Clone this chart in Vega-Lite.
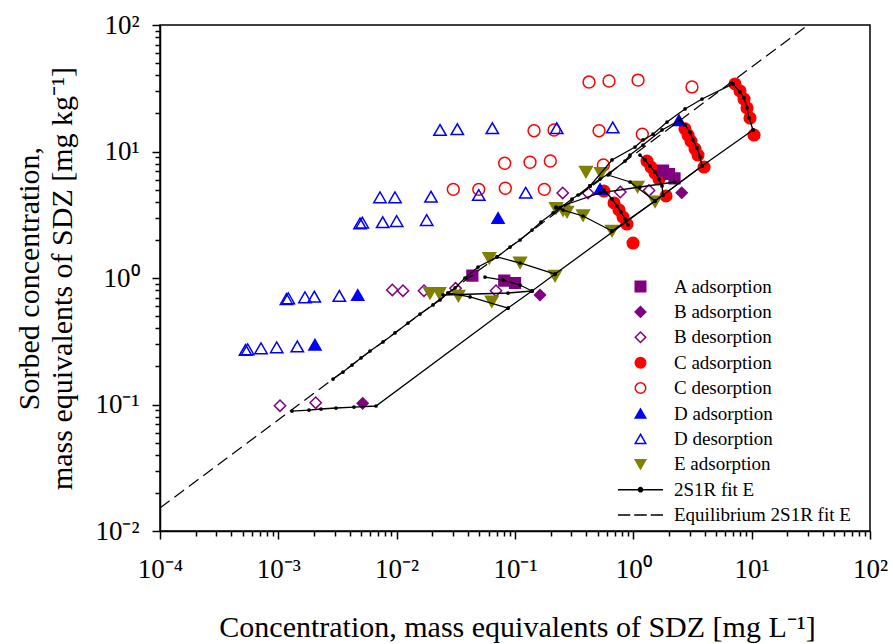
{
  "$schema": "https://vega.github.io/schema/vega-lite/v6.json",
  "width": 710,
  "height": 506,
  "autosize": {"type": "none"},
  "padding": {"left": 160, "top": 25, "right": 23, "bottom": 113},
  "background": "white",
  "config": {
    "view": {"stroke": "black", "strokeWidth": 1.5},
    "font": "Liberation Serif"
  },
  "datasets": {
    "obs": [
      {"series": "C adsorption", "c": 7.23, "s": 34.2},
      {"series": "C adsorption", "c": 7.97, "s": 30.1},
      {"series": "C adsorption", "c": 8.62, "s": 26.0},
      {"series": "C adsorption", "c": 9.14, "s": 22.1},
      {"series": "C adsorption", "c": 9.68, "s": 18.4},
      {"series": "C adsorption", "c": 10.47, "s": 13.5},
      {"series": "C adsorption", "c": 2.73, "s": 15.1},
      {"series": "C adsorption", "c": 2.9, "s": 13.5},
      {"series": "C adsorption", "c": 3.07, "s": 12.1},
      {"series": "C adsorption", "c": 3.32, "s": 10.5},
      {"series": "C adsorption", "c": 3.52, "s": 9.38},
      {"series": "C adsorption", "c": 3.96, "s": 7.54},
      {"series": "C adsorption", "c": 1.305, "s": 8.41},
      {"series": "C adsorption", "c": 1.41, "s": 7.54},
      {"series": "C adsorption", "c": 1.525, "s": 6.76},
      {"series": "C adsorption", "c": 1.65, "s": 6.06},
      {"series": "C adsorption", "c": 1.89, "s": 4.45},
      {"series": "C adsorption", "c": 0.565, "s": 4.87},
      {"series": "C adsorption", "c": 0.687, "s": 3.92},
      {"series": "C adsorption", "c": 0.757, "s": 3.45},
      {"series": "C adsorption", "c": 0.818, "s": 3.03},
      {"series": "C adsorption", "c": 0.884, "s": 2.67},
      {"series": "C adsorption", "c": 0.994, "s": 1.89},
      {"series": "C desorption", "c": 0.422, "s": 35.4},
      {"series": "C desorption", "c": 0.623, "s": 36.1},
      {"series": "C desorption", "c": 1.096, "s": 36.7},
      {"series": "C desorption", "c": 3.13, "s": 32.4},
      {"series": "C desorption", "c": 0.1448, "s": 14.6},
      {"series": "C desorption", "c": 0.2137, "s": 14.8},
      {"series": "C desorption", "c": 0.513, "s": 14.6},
      {"series": "C desorption", "c": 1.191, "s": 13.7},
      {"series": "C desorption", "c": 0.0818, "s": 8.07},
      {"series": "C desorption", "c": 0.1339, "s": 8.22},
      {"series": "C desorption", "c": 0.1988, "s": 8.41},
      {"series": "C desorption", "c": 0.558, "s": 7.82},
      {"series": "C desorption", "c": 0.0301, "s": 5.02},
      {"series": "C desorption", "c": 0.0494, "s": 5.02},
      {"series": "C desorption", "c": 0.0828, "s": 5.12},
      {"series": "C desorption", "c": 0.1769, "s": 5.02},
      {"series": "D desorption", "c": 0.02324, "s": 14.8},
      {"series": "D desorption", "c": 0.03254, "s": 15.0},
      {"series": "D desorption", "c": 0.0643, "s": 15.3},
      {"series": "D desorption", "c": 0.2252, "s": 15.3},
      {"series": "D desorption", "c": 0.6695, "s": 15.5},
      {"series": "D desorption", "c": 0.00723, "s": 4.34},
      {"series": "D desorption", "c": 0.00968, "s": 4.34},
      {"series": "D desorption", "c": 0.0195, "s": 4.39},
      {"series": "D desorption", "c": 0.0494, "s": 4.53},
      {"series": "D desorption", "c": 0.1232, "s": 4.72},
      {"series": "D desorption", "c": 0.0049, "s": 2.7},
      {"series": "D desorption", "c": 0.005124, "s": 2.74},
      {"series": "D desorption", "c": 0.00762, "s": 2.76},
      {"series": "D desorption", "c": 0.01, "s": 2.82},
      {"series": "D desorption", "c": 0.01794, "s": 2.87},
      {"series": "D desorption", "c": 0.001172, "s": 0.682},
      {"series": "D desorption", "c": 0.001214, "s": 0.691},
      {"series": "D desorption", "c": 0.00168, "s": 0.704},
      {"series": "D desorption", "c": 0.002014, "s": 0.711},
      {"series": "D desorption", "c": 0.003275, "s": 0.721},
      {"series": "D desorption", "c": 0.000528, "s": 0.27},
      {"series": "D desorption", "c": 0.000551, "s": 0.273},
      {"series": "D desorption", "c": 0.000714, "s": 0.278},
      {"series": "D desorption", "c": 0.000969, "s": 0.283},
      {"series": "D desorption", "c": 0.001446, "s": 0.288},
      {"series": "D adsorption", "c": 0.00204, "s": 0.297},
      {"series": "D adsorption", "c": 0.00469, "s": 0.734},
      {"series": "D adsorption", "c": 0.0719, "s": 2.98},
      {"series": "D adsorption", "c": 0.523, "s": 5.05},
      {"series": "D adsorption", "c": 2.43, "s": 17.7},
      {"series": "B desorption", "c": 0.001033, "s": 0.0978},
      {"series": "B desorption", "c": 0.002069, "s": 0.1033},
      {"series": "B desorption", "c": 0.00919, "s": 0.804},
      {"series": "B desorption", "c": 0.01131, "s": 0.794},
      {"series": "B desorption", "c": 0.01702, "s": 0.794},
      {"series": "B desorption", "c": 0.03144, "s": 0.829},
      {"series": "B desorption", "c": 0.0691, "s": 0.794},
      {"series": "B desorption", "c": 0.2531, "s": 4.7},
      {"series": "B desorption", "c": 0.414, "s": 4.7},
      {"series": "B desorption", "c": 0.776, "s": 4.78},
      {"series": "B desorption", "c": 1.357, "s": 4.92},
      {"series": "B adsorption", "c": 0.00516, "s": 0.1022},
      {"series": "B adsorption", "c": 0.1627, "s": 0.734},
      {"series": "B adsorption", "c": 2.564, "s": 4.72},
      {"series": "A adsorption", "c": 0.0436, "s": 1.046},
      {"series": "A adsorption", "c": 0.0812, "s": 0.955},
      {"series": "A adsorption", "c": 0.1, "s": 0.913},
      {"series": "A adsorption", "c": 1.782, "s": 7.07},
      {"series": "A adsorption", "c": 2.003, "s": 6.64},
      {"series": "A adsorption", "c": 2.228, "s": 6.12},
      {"series": "E adsorption", "c": 0.01913, "s": 0.757},
      {"series": "E adsorption", "c": 0.02293, "s": 0.757},
      {"series": "E adsorption", "c": 0.0332, "s": 0.721},
      {"series": "E adsorption", "c": 0.0636, "s": 0.65},
      {"series": "E adsorption", "c": 0.0607, "s": 1.431},
      {"series": "E adsorption", "c": 0.1103, "s": 1.321},
      {"series": "E adsorption", "c": 0.2179, "s": 1.037},
      {"series": "E adsorption", "c": 0.2222, "s": 3.556},
      {"series": "E adsorption", "c": 0.2545, "s": 3.417},
      {"series": "E adsorption", "c": 0.2752, "s": 3.324},
      {"series": "E adsorption", "c": 0.3757, "s": 3.119},
      {"series": "E adsorption", "c": 0.6605, "s": 2.352},
      {"series": "E adsorption", "c": 0.398, "s": 6.88},
      {"series": "E adsorption", "c": 0.5332, "s": 6.72},
      {"series": "E adsorption", "c": 1.085, "s": 5.24},
      {"series": "E adsorption", "c": 1.525, "s": 4.01}
    ],
    "fit": [
      {"seg": "m1", "i": 0, "c": 0.001304, "s": 0.0888},
      {"seg": "m1", "i": 1, "c": 0.001816, "s": 0.0904},
      {"seg": "m1", "i": 2, "c": 0.002294, "s": 0.0921},
      {"seg": "m1", "i": 3, "c": 0.003072, "s": 0.0938},
      {"seg": "m1", "i": 4, "c": 0.004359, "s": 0.0955},
      {"seg": "m1", "i": 5, "c": 0.006689, "s": 0.0973},
      {"seg": "m1", "i": 6, "c": 0.0873, "s": 0.579},
      {"seg": "m1", "i": 7, "c": 0.1393, "s": 0.789},
      {"seg": "m1", "i": 8, "c": 0.2179, "s": 1.075},
      {"seg": "m1", "i": 9, "c": 1.782, "s": 4.53},
      {"seg": "m1", "i": 10, "c": 3.805, "s": 7.68},
      {"seg": "m1", "i": 11, "c": 10.27, "s": 14.8},
      {"seg": "m2", "i": 0, "c": 10.27, "s": 14.8},
      {"seg": "m2", "i": 1, "c": 9.5, "s": 18.4},
      {"seg": "m2", "i": 2, "c": 9.14, "s": 22.1},
      {"seg": "m2", "i": 3, "c": 8.62, "s": 26.5},
      {"seg": "m2", "i": 4, "c": 7.97, "s": 29.5},
      {"seg": "m2", "i": 5, "c": 6.957, "s": 34.2},
      {"seg": "m3", "i": 0, "c": 6.957, "s": 34.2},
      {"seg": "m3", "i": 1, "c": 3.805, "s": 26.0},
      {"seg": "m3", "i": 2, "c": 2.734, "s": 21.7},
      {"seg": "m3", "i": 3, "c": 1.926, "s": 17.1},
      {"seg": "m3", "i": 4, "c": 1.467, "s": 13.7},
      {"seg": "m3", "i": 5, "c": 1.207, "s": 12.33},
      {"seg": "m3", "i": 6, "c": 1.033, "s": 10.85},
      {"seg": "m3", "i": 7, "c": 0.6605, "s": 8.57},
      {"seg": "m3", "i": 8, "c": 0.4303, "s": 5.34},
      {"seg": "m4", "i": 0, "c": 3.805, "s": 7.68},
      {"seg": "m4", "i": 1, "c": 3.661, "s": 9.05},
      {"seg": "m4", "i": 2, "c": 3.452, "s": 10.66},
      {"seg": "m4", "i": 3, "c": 3.194, "s": 12.33},
      {"seg": "m4", "i": 4, "c": 3.013, "s": 14.26},
      {"seg": "m4", "i": 5, "c": 2.734, "s": 16.2},
      {"seg": "m4", "i": 6, "c": 2.48, "s": 17.75},
      {"seg": "m5", "i": 0, "c": 2.48, "s": 17.75},
      {"seg": "m5", "i": 1, "c": 1.747, "s": 14.8},
      {"seg": "m5", "i": 2, "c": 1.207, "s": 11.25},
      {"seg": "m5", "i": 3, "c": 0.9376, "s": 9.38},
      {"seg": "m5", "i": 4, "c": 0.8505, "s": 8.41},
      {"seg": "m5", "i": 5, "c": 0.6353, "s": 6.76},
      {"seg": "m5", "i": 6, "c": 0.523, "s": 6.06},
      {"seg": "m5", "i": 7, "c": 0.4303, "s": 5.34},
      {"seg": "main", "i": 0, "c": 0.4303, "s": 5.34},
      {"seg": "main", "i": 1, "c": 0.3407, "s": 4.53},
      {"seg": "main", "i": 2, "c": 0.3032, "s": 4.21},
      {"seg": "main", "i": 3, "c": 0.2402, "s": 3.576},
      {"seg": "main", "i": 4, "c": 0.2096, "s": 3.265},
      {"seg": "main", "i": 5, "c": 0.1659, "s": 2.771},
      {"seg": "main", "i": 6, "c": 0.1393, "s": 2.395},
      {"seg": "main", "i": 7, "c": 0.1103, "s": 1.997},
      {"seg": "main", "i": 8, "c": 0.0908, "s": 1.758},
      {"seg": "main", "i": 9, "c": 0.0705, "s": 1.466},
      {"seg": "main", "i": 10, "c": 0.0487, "s": 1.221},
      {"seg": "main", "i": 11, "c": 0.0378, "s": 1.0},
      {"seg": "main", "i": 12, "c": 0.0311, "s": 0.834},
      {"seg": "main", "i": 13, "c": 0.02716, "s": 0.761},
      {"seg": "main", "i": 14, "c": 0.02324, "s": 0.67},
      {"seg": "main", "i": 15, "c": 0.02029, "s": 0.612},
      {"seg": "main", "i": 16, "c": 0.01575, "s": 0.519},
      {"seg": "main", "i": 17, "c": 0.01247, "s": 0.4407},
      {"seg": "main", "i": 18, "c": 0.00968, "s": 0.3675},
      {"seg": "main", "i": 19, "c": 0.00767, "s": 0.312},
      {"seg": "main", "i": 20, "c": 0.005953, "s": 0.2648},
      {"seg": "main", "i": 21, "c": 0.004996, "s": 0.2332},
      {"seg": "main", "i": 22, "c": 0.004195, "s": 0.2052},
      {"seg": "main", "i": 23, "c": 0.00352, "s": 0.1806},
      {"seg": "main", "i": 24, "c": 0.002897, "s": 0.159},
      {"seg": "m6", "i": 0, "c": 1.782, "s": 4.53},
      {"seg": "m6", "i": 1, "c": 1.747, "s": 5.34},
      {"seg": "m6", "i": 2, "c": 1.648, "s": 6.06},
      {"seg": "m6", "i": 3, "c": 1.525, "s": 6.88},
      {"seg": "m6", "i": 4, "c": 1.383, "s": 7.68},
      {"seg": "m6", "i": 5, "c": 1.255, "s": 8.57},
      {"seg": "m6", "i": 6, "c": 1.139, "s": 9.38},
      {"seg": "m7", "i": 0, "c": 0.9016, "s": 2.624},
      {"seg": "m7", "i": 1, "c": 0.8505, "s": 2.927},
      {"seg": "m7", "i": 2, "c": 0.787, "s": 3.324},
      {"seg": "m7", "i": 3, "c": 0.728, "s": 3.708},
      {"seg": "m7", "i": 4, "c": 0.6605, "s": 4.21},
      {"seg": "m7", "i": 5, "c": 0.5653, "s": 4.96},
      {"seg": "j1", "i": 0, "c": 0.6605, "s": 2.352},
      {"seg": "j1", "i": 1, "c": 1.525, "s": 4.06},
      {"seg": "j1", "i": 2, "c": 3.805, "s": 7.68},
      {"seg": "m8", "i": 0, "c": 0.6605, "s": 2.352},
      {"seg": "m8", "i": 1, "c": 0.3757, "s": 3.091},
      {"seg": "m8", "i": 2, "c": 0.2545, "s": 3.447},
      {"seg": "m8", "i": 3, "c": 0.2222, "s": 3.64},
      {"seg": "m9", "i": 0, "c": 1.525, "s": 4.06},
      {"seg": "m9", "i": 1, "c": 0.9376, "s": 5.74},
      {"seg": "m9", "i": 2, "c": 0.611, "s": 6.52},
      {"seg": "m10", "i": 0, "c": 0.2179, "s": 1.075},
      {"seg": "m10", "i": 1, "c": 0.1103, "s": 1.314},
      {"seg": "m10", "i": 2, "c": 0.0705, "s": 1.466},
      {"seg": "m11", "i": 0, "c": 0.1393, "s": 0.789},
      {"seg": "m11", "i": 1, "c": 0.1103, "s": 0.88},
      {"seg": "m11", "i": 2, "c": 0.0792, "s": 0.964},
      {"seg": "m11", "i": 3, "c": 0.0558, "s": 1.018},
      {"seg": "m12", "i": 0, "c": 0.1393, "s": 0.789},
      {"seg": "m12", "i": 1, "c": 0.0873, "s": 0.761},
      {"seg": "m12", "i": 2, "c": 0.02464, "s": 0.734},
      {"seg": "m13", "i": 0, "c": 0.0873, "s": 0.579},
      {"seg": "m13", "i": 1, "c": 0.0417, "s": 0.708},
      {"seg": "m13", "i": 2, "c": 0.02716, "s": 0.761},
      {"seg": "m14", "i": 0, "c": 0.2222, "s": 3.576},
      {"seg": "m14", "i": 1, "c": 0.523, "s": 4.7},
      {"seg": "m14", "i": 2, "c": 1.139, "s": 5.24},
      {"seg": "m14", "i": 3, "c": 2.25, "s": 5.74}
    ],
    "eq": [
      {"c": 0.0001, "s": 0.0152},
      {"c": 29.9, "s": 100}
    ]
  },
  "encoding": {
    "x": {
      "field": "c", "type": "quantitative",
      "scale": {"type": "log", "domain": [0.0001, 100], "nice": false},
      "axis": {
        "title": "Concentration, mass equivalents of SDZ [mg L⁻¹]",
        "values": [0.0001,0.0002,0.0003,0.0004,0.0005,0.0006,0.0007,0.0008,0.0009,0.001,0.002,0.003,0.004,0.005,0.006,0.007,0.008,0.009,0.01,0.02,0.03,0.04,0.05,0.06,0.07,0.08,0.09,0.1,0.2,0.3,0.4,0.5,0.6,0.7,0.8,0.9,1,2,3,4,5,6,7,8,9,10,20,30,40,50,60,70,80,90,100],
        "labelExpr": "abs(log(datum.value)/LN10 - round(log(datum.value)/LN10)) > 0.001 ? '' : ['10⁻⁴','10⁻³','10⁻²','10⁻¹','10⁰','10¹','10²'][round(log(datum.value)/LN10) + 4]",
        "tickSize": {"condition": {"test": "abs(log(datum.value)/LN10 - round(log(datum.value)/LN10)) < 0.001", "value": 8}, "value": 5},
        "tickColor": "black", "tickWidth": 1.5,
        "domainColor": "black", "domainWidth": 1.5,
        "grid": false,
        "labelFont": "Liberation Serif", "labelFontSize": 27, "labelColor": "black",
        "labelPadding": 17, "labelOverlap": false, "labelFlush": false,
        "titleFont": "Liberation Serif", "titleFontSize": 30, "titleFontWeight": "normal", "titleColor": "black",
        "titleX": 357, "titleY": 105, "titleBaseline": "alphabetic"
      }
    },
    "y": {
      "field": "s", "type": "quantitative",
      "scale": {"type": "log", "domain": [0.01, 100], "nice": false},
      "axis": {
        "title": ["Sorbed concentration,", "mass equivalents of SDZ [mg kg⁻¹]"],
        "values": [0.01,0.02,0.03,0.04,0.05,0.06,0.07,0.08,0.09,0.1,0.2,0.3,0.4,0.5,0.6,0.7,0.8,0.9,1,2,3,4,5,6,7,8,9,10,20,30,40,50,60,70,80,90,100],
        "labelExpr": "abs(log(datum.value)/LN10 - round(log(datum.value)/LN10)) > 0.001 ? '' : ['10⁻⁴','10⁻³','10⁻²','10⁻¹','10⁰','10¹','10²'][round(log(datum.value)/LN10) + 4]",
        "tickSize": {"condition": {"test": "abs(log(datum.value)/LN10 - round(log(datum.value)/LN10)) < 0.001", "value": 8}, "value": 5},
        "tickColor": "black", "tickWidth": 1.5,
        "domainColor": "black", "domainWidth": 1.5,
        "grid": false,
        "labelFont": "Liberation Serif", "labelFontSize": 27, "labelColor": "black",
        "labelPadding": 13, "labelOverlap": false, "labelFlush": false,
        "titleFont": "Liberation Serif", "titleFontSize": 30, "titleFontWeight": "normal", "titleColor": "black",
        "titleX": -131, "titleY": 253, "titleBaseline": "middle", "titleAngle": -90, "titleLineHeight": 33
      }
    }
  },
  "layer": [
    {
      "data": {"name": "obs"},
      "mark": {"type": "point", "opacity": 1, "strokeWidth": 1.5},
      "encoding": {
        "shape": {
          "field": "series", "type": "nominal",
          "scale": {
            "domain": ["A adsorption", "B adsorption", "B desorption", "C adsorption", "C desorption", "D adsorption", "D desorption", "E adsorption", "2S1R fit E", "Equilibrium 2S1R fit E"],
            "range": ["square", "diamond", "diamond", "circle", "circle", "triangle-up", "triangle-up", "triangle-down", "M-4.3,0L4.3,0M-0.4,0A0.4,0.4,0,1,0,0.4,0A0.4,0.4,0,1,0,-0.4,0Z", "M-4.3,0L-1.95,0M-1.2,0L1.2,0M1.95,0L4.3,0"]
          },
          "legend": {"orient": "none", "legendX": 471, "legendY": 252, "title": null, "labelFont": "Liberation Serif", "labelFontSize": 19, "labelColor": "black", "labelLimit": 400, "symbolSize": 110, "symbolStrokeWidth": 1.5, "labelOffset": 24, "rowPadding": 5.4, "padding": 0, "symbolOpacity": 1}
        },
        "fill": {
          "field": "series", "type": "nominal",
          "scale": {
            "domain": ["A adsorption", "B adsorption", "B desorption", "C adsorption", "C desorption", "D adsorption", "D desorption", "E adsorption", "2S1R fit E", "Equilibrium 2S1R fit E"],
            "range": ["#800080", "#800080", "transparent", "#ff0000", "transparent", "#0000ff", "transparent", "#808000", "black", "transparent"]
          },
          "legend": {"orient": "none", "legendX": 471, "legendY": 252, "title": null, "labelFont": "Liberation Serif", "labelFontSize": 19, "labelColor": "black", "labelLimit": 400, "symbolSize": 110, "symbolStrokeWidth": 1.5, "labelOffset": 24, "rowPadding": 5.4, "padding": 0, "symbolOpacity": 1}
        },
        "stroke": {
          "field": "series", "type": "nominal",
          "scale": {
            "domain": ["A adsorption", "B adsorption", "B desorption", "C adsorption", "C desorption", "D adsorption", "D desorption", "E adsorption", "2S1R fit E", "Equilibrium 2S1R fit E"],
            "range": ["#800080", "#800080", "#800080", "#ff0000", "#ff0000", "#0000ff", "#0000ff", "#808000", "black", "black"]
          },
          "legend": {"orient": "none", "legendX": 471, "legendY": 252, "title": null, "labelFont": "Liberation Serif", "labelFontSize": 19, "labelColor": "black", "labelLimit": 400, "symbolSize": 110, "symbolStrokeWidth": 1.5, "labelOffset": 24, "rowPadding": 5.4, "padding": 0, "symbolOpacity": 1}
        },
        "size": {
          "field": "series", "type": "nominal",
          "scale": {
            "domain": ["A adsorption", "B adsorption", "B desorption", "C adsorption", "C desorption", "D adsorption", "D desorption", "E adsorption"],
            "range": [115, 160, 150, 185, 130, 130, 120, 140]
          },
          "legend": null
        }
      }
    },
    {
      "data": {"name": "eq"},
      "mark": {"type": "line", "color": "black", "strokeWidth": 1.2, "strokeDash": [12, 6], "clip": true},
      "encoding": {}
    },
    {
      "data": {"name": "fit"},
      "mark": {"type": "line", "color": "black", "strokeWidth": 1.3},
      "encoding": {
        "detail": {"field": "seg", "type": "nominal"},
        "order": {"field": "i", "type": "quantitative"}
      }
    },
    {
      "data": {"name": "fit"},
      "mark": {"type": "point", "filled": true, "color": "black", "size": 14, "opacity": 1, "shape": "circle"}
    }
  ]
}
